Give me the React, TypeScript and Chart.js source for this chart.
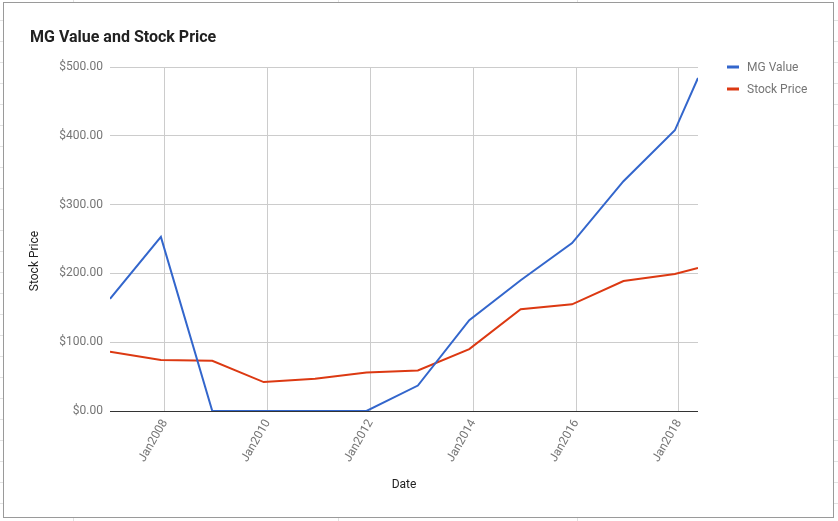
import React, { useEffect, useRef } from 'react';
import { Chart, registerables } from 'chart.js';

Chart.register(...registerables);

// ---- Data ----
const dates = [2006.93, 2007.92, 2008.92, 2009.92, 2010.92, 2011.92, 2012.92, 2013.92, 2014.92, 2015.92, 2016.92, 2017.92, 2018.37];
const mgValue = [163, 253, 0, 0, 0, 0, 37, 132, 190, 244, 334, 408, 484];
const stockPrice = [86, 74, 73, 42, 47, 56, 59, 90, 148, 155, 189, 199, 208];
const xTickYears = [2008, 2010, 2012, 2014, 2016, 2018];
const yTickValues = [0, 100, 200, 300, 400, 500];
const seriesNames = ['MG Value', 'Stock Price'];
const seriesColors = ['#3366cc', '#dc3912'];
const chartTitle = 'MG Value and Stock Price';
const xTitle = 'Date';
const yTitle = 'Stock Price';

const FONT = 'Roboto, "Noto Sans", Arial, sans-serif';

const overlayPlugin = {
  id: 'overlay',
  afterDraw(chart: any) {
    const ctx = chart.ctx as CanvasRenderingContext2D;
    ctx.save();
    // Title
    ctx.fillStyle = '#212121';
    ctx.font = `bold 16px ${FONT}`;
    ctx.textAlign = 'left';
    ctx.textBaseline = 'alphabetic';
    ctx.fillText(chartTitle, 30, 42);

    // Legend
    ctx.font = `12px ${FONT}`;
    ctx.textBaseline = 'middle';
    chart.data.datasets.forEach((ds: any, i: number) => {
      const y = 67 + i * 22;
      ctx.fillStyle = ds.borderColor;
      ctx.fillRect(727, y - 1.5, 12, 3);
      ctx.fillStyle = '#757575';
      ctx.fillText(ds.label, 747, y + 0.5);
    });

    // Y axis title
    ctx.fillStyle = '#222222';
    ctx.font = `12px ${FONT}`;
    ctx.translate(35, 261);
    ctx.rotate(-Math.PI / 2);
    ctx.textAlign = 'center';
    ctx.textBaseline = 'middle';
    ctx.fillText(yTitle, 0, 0);
    ctx.restore();
  },
};

export default function App() {
  const canvasRef = useRef<HTMLCanvasElement | null>(null);

  useEffect(() => {
    if (!canvasRef.current) return;
    const chart = new Chart(canvasRef.current, {
      type: 'line',
      data: {
        datasets: [
          {
            label: seriesNames[0],
            data: dates.map((d, i) => ({ x: d, y: mgValue[i] })),
            borderColor: seriesColors[0],
            backgroundColor: seriesColors[0],
            borderWidth: 2,
            pointRadius: 0,
            tension: 0,
          },
          {
            label: seriesNames[1],
            data: dates.map((d, i) => ({ x: d, y: stockPrice[i] })),
            borderColor: seriesColors[1],
            backgroundColor: seriesColors[1],
            borderWidth: 2,
            pointRadius: 0,
            tension: 0,
          },
        ],
      },
      options: {
        responsive: false,
        animation: false,
        layout: { padding: { top: 67, right: 140, bottom: 0, left: 0 } },
        plugins: {
          legend: { display: false },
          title: { display: false },
          tooltip: { enabled: false },
        },
        scales: {
          x: {
            type: 'linear',
            min: dates[0],
            max: dates[dates.length - 1],
            afterFit: (scale: any) => {
              scale.height = 110;
            },
            afterBuildTicks: (scale: any) => {
              scale.ticks = xTickYears.map((v) => ({ value: v }));
            },
            ticks: {
              minRotation: 60,
              maxRotation: 60,
              padding: 6,
              color: '#757575',
              font: { family: FONT, size: 12 },
              callback: (v: any) => 'Jan' + Math.round(Number(v)),
            },
            grid: { color: '#cccccc', drawTicks: false },
            border: { display: false },
            title: {
              display: true,
              text: xTitle,
              color: '#222222',
              font: { family: FONT, size: 12 },
              padding: { top: 0, bottom: 29 },
            },
          },
          y: {
            min: 0,
            max: 500,
            afterFit: (scale: any) => {
              scale.width = 110;
            },
            afterBuildTicks: (scale: any) => {
              scale.ticks = yTickValues.map((v) => ({ value: v }));
            },
            ticks: {
              padding: 7,
              color: '#757575',
              font: { family: FONT, size: 12 },
              callback: (v: any) => '$' + Number(v).toFixed(2),
            },
            grid: {
              drawTicks: false,
              color: (c: any) => (c.tick && c.tick.value === 0 ? '#333333' : '#cccccc'),
            },
            border: { display: false },
          },
        },
      },
      plugins: [overlayPlugin],
    });
    return () => chart.destroy();
  }, []);

  return (
    <div
      style={{
        position: 'fixed',
        left: 0,
        top: 0,
        width: 838,
        height: 521,
        background:
          'repeating-linear-gradient(to bottom, #ffffff 0px, #ffffff 20px, #e2e2e2 20px, #e2e2e2 21px)',
        overflow: 'hidden',
      }}
    >
      {[73, 338, 577].map((x) => (
        <div key={x} style={{ position: 'absolute', left: x, top: 0, width: 1, height: 521, background: '#e2e2e2' }} />
      ))}
      <div
        style={{
          position: 'absolute',
          left: 3,
          top: 2,
          width: 831,
          height: 516,
          boxSizing: 'border-box',
          border: '1px solid #9a9a9a',
          background: '#ffffff',
        }}
      />
      <canvas
        ref={canvasRef}
        width={838}
        height={521}
        style={{ position: 'absolute', left: 0, top: 0, width: 838, height: 521 }}
      />
    </div>
  );
}
